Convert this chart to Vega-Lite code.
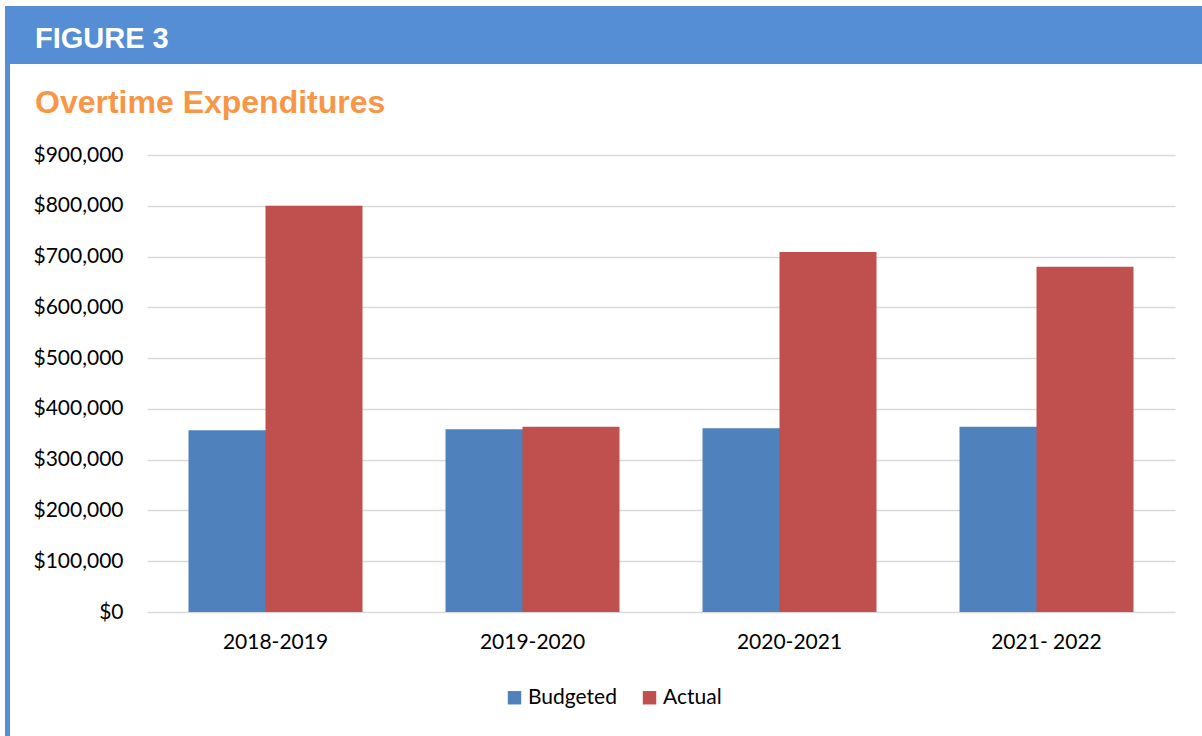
{
  "$schema": "https://vega.github.io/schema/vega-lite/v6.json",
  "background": "white",
  "padding": {"left": 5, "top": 6, "right": 0, "bottom": 0},
  "config": {"view": {"stroke": null}},
  "spacing": -137,
  "hconcat": [
    {
      "spacing": 0,
      "vconcat": [
        {
          "width": 142,
          "height": 58,
          "data": {"values": [{}]},
          "mark": {"type": "rect", "color": "#558ED5"},
          "encoding": {}
        },
        {
          "width": 5,
          "height": 672,
          "data": {"values": [{}]},
          "mark": {"type": "rect", "color": "#558ED5"},
          "encoding": {}
        }
      ]
    },
    {
      "spacing": 23,
      "vconcat": [
        {
          "width": 1055,
          "height": 58,
          "title": {"text": "FIGURE 3", "anchor": "start", "frame": "group", "orient": "bottom", "offset": -16, "baseline": "alphabetic", "dx": -112, "color": "white", "font": "Liberation Sans", "fontSize": 29, "fontWeight": "bold"},
          "data": {"values": [{}]},
          "mark": {"type": "rect", "color": "#558ED5"},
          "encoding": {}
        },
        {
          "width": 1028,
          "height": 457,
          "title": {"text": "Overtime Expenditures", "anchor": "start", "frame": "bounds", "dx": 25, "offset": 24, "color": "#F79646", "font": "Liberation Sans", "fontSize": 32, "fontWeight": "bold"},
          "data": {"values": [
            {"period": "2018-2019", "series": "Budgeted", "value": 358000},
            {"period": "2018-2019", "series": "Actual", "value": 800000},
            {"period": "2019-2020", "series": "Budgeted", "value": 360000},
            {"period": "2019-2020", "series": "Actual", "value": 365000},
            {"period": "2020-2021", "series": "Budgeted", "value": 362000},
            {"period": "2020-2021", "series": "Actual", "value": 709000},
            {"period": "2021- 2022", "series": "Budgeted", "value": 365000},
            {"period": "2021- 2022", "series": "Actual", "value": 680000}
          ]},
          "encoding": {
            "x": {"field": "period", "type": "nominal", "sort": ["2018-2019", "2019-2020", "2020-2021", "2021- 2022"], "title": null,
              "scale": {"paddingInner": 0.323, "paddingOuter": 0.1615},
              "axis": {"domain": false, "ticks": false, "labelAngle": 0, "labelPadding": 19, "labelFont": "Lato", "labelFontSize": 21, "labelColor": "#000000", "grid": false}},
            "xOffset": {"field": "series", "type": "nominal", "scale": {"domain": ["Budgeted", "Actual"], "paddingInner": 0, "paddingOuter": 0}},
            "y": {"field": "value", "type": "quantitative", "title": null,
              "scale": {"domain": [0, 900000], "nice": false},
              "axis": {"values": [0, 100000, 200000, 300000, 400000, 500000, 600000, 700000, 800000, 900000], "format": "$,.0f", "domain": false, "ticks": false, "labelPadding": 24, "minExtent": 137, "maxExtent": 137, "labelFont": "Lato", "labelFontSize": 21, "labelColor": "#000000", "gridColor": "#D9D9D9", "gridWidth": 1.5}},
            "color": {"field": "series", "type": "nominal", "scale": {"domain": ["Budgeted", "Actual"], "range": ["#4F81BD", "#C0504D"]},
              "legend": {"title": null, "orient": "none", "direction": "horizontal", "legendX": 499, "legendY": 681, "padding": 0, "symbolType": "square", "symbolSize": 180, "symbolStrokeWidth": 0, "labelFont": "Lato", "labelFontSize": 21, "labelColor": "#000000", "labelOffset": 3, "columnPadding": 22}}
          },
          "layer": [
            {"transform": [{"filter": "datum.series === 'Budgeted'"}], "mark": {"type": "bar", "width": {"band": 1}}},
            {"transform": [{"filter": "datum.series === 'Actual'"}], "mark": {"type": "bar", "width": {"band": 1.115}}}
          ]
        }
      ]
    }
  ]
}
